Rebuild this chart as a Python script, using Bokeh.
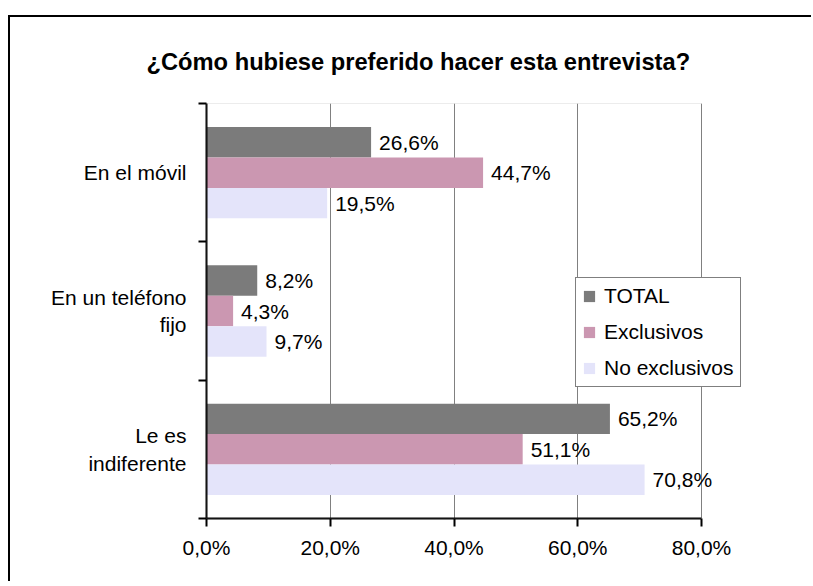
from bokeh.plotting import figure
from bokeh.models import (Range1d, LinearAxis, FixedTicker, LabelSet, ColumnDataSource,
                          Legend, LegendItem, BoxAnnotation, Grid)
from bokeh.core.properties import value
from bokeh.embed import file_html
from bokeh.resources import INLINE

# ---- data ----
categories = ["En el móvil", "En un teléfono fijo", "Le es indiferente"]
category_labels = ["En el móvil", "En un teléfono\nfijo", "Le es\nindiferente"]
series_names = ["TOTAL", "Exclusivos", "No exclusivos"]
total = [26.6, 8.2, 65.2]
exclusivos = [44.7, 4.3, 51.1]
no_exclusivos = [19.5, 9.7, 70.8]
x_ticks = [0, 20, 40, 60, 80]
x_tick_labels = ["0,0%", "20,0%", "40,0%", "60,0%", "80,0%"]
title_text = "¿Cómo hubiese preferido hacer esta entrevista?"

series_values = [total, exclusivos, no_exclusivos]
colors = ["#7b7b7b", "#cb97b1", "#e4e4fa"]
offsets = [0.22, 0.0, -0.22]
FONT = "Liberation Sans"
X_MAX = 80

n = len(categories)
centers = [n - 0.5 - i for i in range(n)]  # first category on top

p = figure(width=803, height=566, output_backend="svg", toolbar_location=None,
           y_range=Range1d(0, n), x_range=Range1d(0, 96),
           x_axis_location=None, y_axis_location=None,
           min_border_left=196, min_border_right=13, min_border_top=85, min_border_bottom=65)
for g in p.grid:
    g.visible = False
p.outline_line_color = None
p.background_fill_color = "white"
p.border_fill_color = "white"
p.styles = {"border-left": "2px solid black", "border-top": "2px solid black",
            "border-right": "none", "border-bottom": "none",
            "margin-left": "8px", "margin-top": "15px"}

# title
p.title.text = title_text
p.title.align = "left"
p.title.offset = -60
p.title.standoff = 58
p.title.text_font = FONT
p.title.text_font_size = "23.7px"
p.title.text_font_style = "bold"
p.title.text_color = "black"

# plot-area border (grey, top & right)
area = BoxAnnotation(left=0, right=X_MAX, bottom=0, top=n, fill_color=None, fill_alpha=0,
                     line_color="#808080", line_width=1)
p.add_layout(area)

# x axis + grid
xaxis = LinearAxis(ticker=FixedTicker(ticks=x_ticks), bounds=(0, X_MAX),
                   major_label_overrides={float(t): l for t, l in zip(x_ticks, x_tick_labels)})
xaxis.axis_line_width = 2
xaxis.axis_line_color = "black"
xaxis.major_tick_line_width = 2
xaxis.major_tick_out = 8
xaxis.major_tick_in = 0
xaxis.minor_tick_line_color = None
xaxis.major_label_text_font = FONT
xaxis.major_label_text_font_size = "21px"
xaxis.major_label_text_color = "black"
xaxis.major_label_standoff = 9
p.add_layout(xaxis, "below")
p.add_layout(Grid(dimension=0, ticker=FixedTicker(ticks=x_ticks),
                  grid_line_color="#808080", grid_line_width=1))

# y axis: labels at category centres, ticks at category boundaries
yaxis = LinearAxis(ticker=FixedTicker(ticks=centers, minor_ticks=list(range(n + 1))),
                   major_label_overrides={float(c): l for c, l in zip(centers, category_labels)})
yaxis.axis_line_width = 2
yaxis.axis_line_color = "black"
yaxis.major_tick_line_color = None
yaxis.major_tick_out = 0
yaxis.major_tick_in = 0
yaxis.minor_tick_line_color = "black"
yaxis.minor_tick_line_width = 2
yaxis.minor_tick_out = 8
yaxis.minor_tick_in = 0
yaxis.major_label_text_font = FONT
yaxis.major_label_text_font_size = "21px"
yaxis.major_label_text_color = "black"
yaxis.major_label_standoff = 12
p.add_layout(yaxis, "left")

# bars
items = []
for name, vals, col, off in zip(series_names, series_values, colors, offsets):
    src = ColumnDataSource(dict(y=[c + off for c in centers], val=vals,
                                lbl=[f"{v:.1f}".replace(".", ",") + "%" for v in vals]))
    r = p.hbar(y="y", left=0, right="val", height=0.22,
               source=src, fill_color=col, line_color=None)
    lbls = LabelSet(x="val", y="y", text="lbl", source=src,
                    x_offset=8, text_baseline="middle", text_font=value(FONT),
                    text_font_size=value("21px"), text_color="black")
    p.add_layout(lbls)
    items.append(LegendItem(label=name, renderers=[r]))

legend = Legend(items=items, location=(369, 131), glyph_width=14, glyph_height=14,
                label_text_font=FONT, label_text_font_size="21px", label_text_color="black",
                border_line_color="black", border_line_width=1, background_fill_color="white",
                background_fill_alpha=1.0, padding=6, spacing=12, label_standoff=8, margin=0)
p.add_layout(legend, "center")

open("out.html", "w").write(file_html(p, INLINE))
